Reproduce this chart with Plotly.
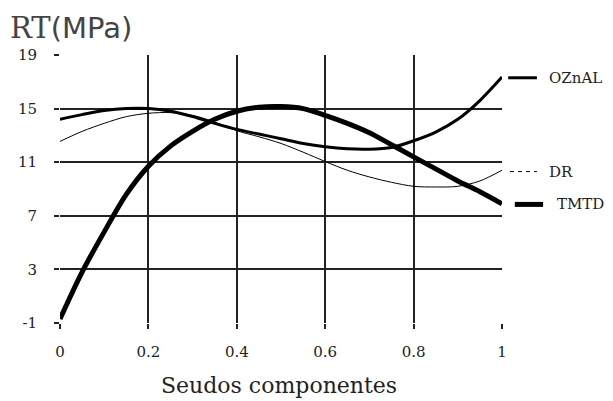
import plotly.graph_objects as go

x_vals = [0, 0.05, 0.1, 0.15, 0.2, 0.25, 0.3, 0.35, 0.4, 0.45, 0.5,
          0.55, 0.6, 0.65, 0.7, 0.75, 0.8, 0.85, 0.9, 0.95, 1.0]
ozn_al = [14.2, 14.55, 14.85, 15.0, 15.0, 14.8, 14.4, 13.9, 13.45, 13.1, 12.75,
          12.4, 12.15, 12.0, 11.97, 12.1, 12.6, 13.25, 14.2, 15.6, 17.35]
dr = [12.55, 13.3, 13.9, 14.4, 14.65, 14.7, 14.5, 14.0, 13.35, 12.9, 12.4,
      11.75, 11.05, 10.4, 9.9, 9.5, 9.2, 9.15, 9.2, 9.6, 10.4]
tmtd = [-0.7, 2.8, 5.8, 8.6, 10.7, 12.2, 13.3, 14.2, 14.8, 15.1, 15.15,
        15.0, 14.5, 13.9, 13.2, 12.3, 11.4, 10.5, 9.6, 8.8, 7.9]

x_ticks = [0, 0.2, 0.4, 0.6, 0.8, 1]
x_ticklabels = ["0", "0.2", "0.4", "0.6", "0.8", "1"]
y_ticks = [-1, 3, 7, 11, 15, 19]
y_ticklabels = ["-1", "3", "7", "11", "15", "19"]

series = [
    ("OZnAL", ozn_al, 3),
    ("DR", dr, 1),
    ("TMTD", tmtd, 5),
]
# legend sample: width, dash, x0, x1, text x (paper)
legend_style = {"OZnAL": (3, "solid", 1.014, 1.079, 1.102),
                "DR": (1, "4px,4px", 1.018, 1.079, 1.102),
                "TMTD": (5, "solid", 1.029, 1.093, 1.120)}
label_y = {"OZnAL": 17.3, "DR": 10.3, "TMTD": 7.85}

fig = go.Figure()
for name, vals, w in series:
    fig.add_trace(go.Scatter(x=x_vals, y=vals, mode="lines", name=name,
                             line=dict(color="black", width=w,
                                       shape="spline", smoothing=0.9),
                             showlegend=False))

for name, vals, w in series:
    lw, ld, x0, x1, xt = legend_style[name]
    yv = label_y[name]
    fig.add_shape(type="line", xref="paper", yref="y", x0=x0, x1=x1, y0=yv, y1=yv,
                  line=dict(color="black", width=lw, dash=ld))
    fig.add_annotation(xref="paper", yref="y", x=xt, y=yv, text=name,
                       showarrow=False, xanchor="left", yanchor="middle",
                       font=dict(family="DejaVu Serif", size=15, color="#222"))

axis_common = dict(showgrid=True, gridcolor="#222", gridwidth=1.5,
                   ticks="outside", ticklen=5, tickcolor="#222", tickwidth=1.5,
                   zeroline=False, showline=False, automargin=False,
                   tickfont=dict(family="DejaVu Serif", size=15, color="#222"))

fig.update_xaxes(range=[0, 1], tickvals=x_ticks, ticktext=x_ticklabels,
                 ticklabelstandoff=10, **axis_common)
fig.update_yaxes(range=[-1, 19], tickvals=y_ticks, ticktext=y_ticklabels,
                 ticklabelstandoff=14, **axis_common)

fig.add_annotation(xref="paper", yref="paper", x=0.495, y=-0.232,
                   text="Seudos componentes", showarrow=False,
                   xanchor="center", yanchor="middle",
                   font=dict(family="DejaVu Serif", size=22, color="#222"))

fig.add_annotation(xref="paper", yref="paper", x=-0.118, y=1.10,
                   text="<span style='font-family:DejaVu Serif'>RT</span>(MPa)",
                   showarrow=False, xanchor="left", yanchor="middle",
                   font=dict(family="DejaVu Sans", size=29, color="#444"))

fig.update_layout(width=605, height=393, plot_bgcolor="white", paper_bgcolor="white",
                  margin=dict(l=52, r=111, t=47, b=78))

fig.write_html("out.html")
